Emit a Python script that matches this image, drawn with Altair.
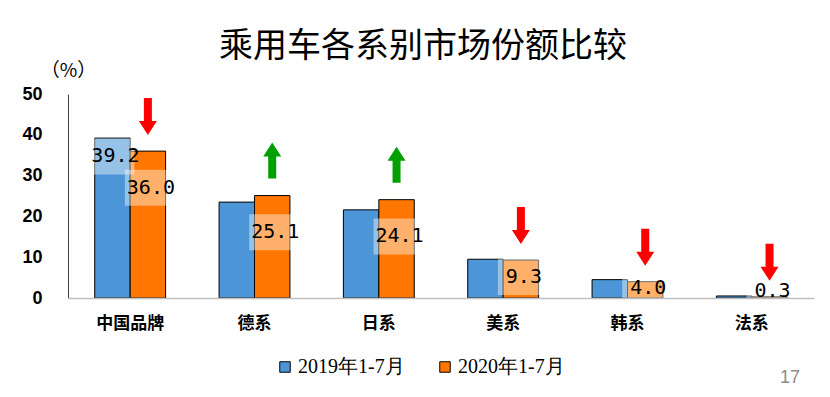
import altair as alt
import pandas as pd

categories = ["中国品牌", "德系", "日系", "美系", "韩系", "法系"]
series = ["2019年1-7月", "2020年1-7月"]
share_2019 = [39.2, 23.5, 21.6, 9.5, 4.5, 0.5]
share_2020 = [36.0, 25.1, 24.1, 9.3, 4.0, 0.3]
title_text = "乘用车各系别市场份额比较"
unit_text = "（%）"
page_no = "17"

BLUE = "#4C96D7"
ORANGE = "#FF7700"
RED = "#FF0000"
GREEN = "#00A000"
CJK = "Noto Sans CJK SC"

# bar table
rows = []
for c, a, b in zip(categories, share_2019, share_2020):
    rows.append({"category": c, "series": series[0], "value": a})
    rows.append({"category": c, "series": series[1], "value": b})
bars_df = pd.DataFrame(rows)

# data labels: 2019 only for the first group, all 2020 values
lab = []
lab.append({"category": categories[0], "series": series[0], "value": share_2019[0],
            "ly": share_2019[0] - 4.5, "txt": f"{share_2019[0]:.1f}"})
for c, v in zip(categories, share_2020):
    lab.append({"category": c, "series": series[1], "value": v,
                "ly": max(v - 9, v / 2 + 0.5, 1.8), "txt": f"{v:.1f}"})
labels_df = pd.DataFrame(lab)

# trend arrows above the 2020 bars
arr = []
for c, a, b in zip(categories, share_2019, share_2020):
    arr.append({"category": c, "series": series[1], "value": b,
                "dir": "up" if b > a else "down"})
arrows_df = pd.DataFrame(arr)

DOWN = "M-4,-53L4,-53L4,-30L9,-30L0,-16L-9,-30L-4,-30Z"
UP = "M0,-53L9,-39L4,-39L4,-17L-4,-17L-4,-39L-9,-39Z"
BOX = "M-23,-18L22,-18L22,18L-23,18Z"

X = alt.X("category:N", sort=categories, title=None,
          scale=alt.Scale(paddingInner=0.43, paddingOuter=0.215),
          axis=alt.Axis(labelAngle=0, labelFont=CJK, labelFontSize=17,
                        labelFontWeight="bold", labelColor="black",
                        labelPadding=17, ticks=False, domainColor="#BFBFBF",
                        domainWidth=1.5, zindex=1))
XO = alt.XOffset("series:N", sort=series, scale=alt.Scale(domain=series))
yaxis = alt.Axis(values=[0, 10, 20, 30, 40, 50], grid=False, ticks=False,
                 labelFont="Liberation Sans", labelFontSize=18, labelColor="black",
                 labelFontWeight="bold",
                 labelPadding=26, domainColor="#404040",
                 title=unit_text, titleAngle=0, titleX=0, titleY=-24,
                 titleAlign="center", titleBaseline="middle", titleFont=CJK,
                 titleFontSize=19, titleFontWeight="normal", titleColor="black")
yscale = alt.Scale(domain=[0, 50])

bars = alt.Chart(bars_df).mark_bar(stroke="black", strokeWidth=1).encode(
    x=X, xOffset=XO,
    y=alt.Y("value:Q", scale=yscale, axis=yaxis),
    color=alt.Color("series:N", sort=series,
                    scale=alt.Scale(domain=series, range=[BLUE, ORANGE]),
                    legend=alt.Legend(title=None, orient="none", direction="horizontal",
                                      legendX=207, legendY=263,
                                      symbolType="square", symbolSize=110,
                                      symbolStrokeColor="black", symbolStrokeWidth=1,
                                      symbolOpacity=1,
                                      labelFont="Liberation Serif", labelFontSize=20,
                                      labelColor="black", columnPadding=30,
                                      labelOffset=3)),
)

boxes = alt.Chart(labels_df).mark_point(shape=BOX, size=4, filled=True,
                                        fill="white", opacity=0.42, strokeWidth=0).encode(
    x=X, xOffset=XO, y=alt.Y("ly:Q", scale=yscale, axis=yaxis),
)

texts = alt.Chart(labels_df).mark_text(font="DejaVu Sans Mono", fontSize=20,
                                       color="black", dx=3, baseline="middle").encode(
    x=X, xOffset=XO, y=alt.Y("ly:Q", scale=yscale, axis=yaxis), text="txt:N",
)

arrows = alt.Chart(arrows_df).mark_point(size=4, filled=True, opacity=1,
                                         strokeWidth=0).encode(
    x=X, xOffset=XO, y=alt.Y("value:Q", scale=yscale, axis=yaxis),
    shape=alt.condition(alt.datum.dir == "up", alt.value(UP), alt.value(DOWN)),
    fill=alt.condition(alt.datum.dir == "up", alt.value(GREEN), alt.value(RED)),
)

page = alt.Chart(pd.DataFrame({"t": [page_no]})).mark_text(
    font="Liberation Sans", fontSize=18, color="#8C8C8C", align="center",
    baseline="middle").encode(x=alt.value(722), y=alt.value(284), text="t:N")

chart = alt.layer(bars, boxes, texts, arrows, page).properties(
    width=746, height=204,
    title=alt.TitleParams(title_text, font=CJK, fontSize=34, fontWeight="normal",
                          color="black", anchor="middle", dx=-18, offset=-3),
    autosize=alt.AutoSizeParams(type="none"),
    padding={"left": 60, "top": 86, "right": 8, "bottom": 91},
).configure_view(stroke=None)

chart.save("out.html", embed_options={"renderer": "svg", "actions": False})
